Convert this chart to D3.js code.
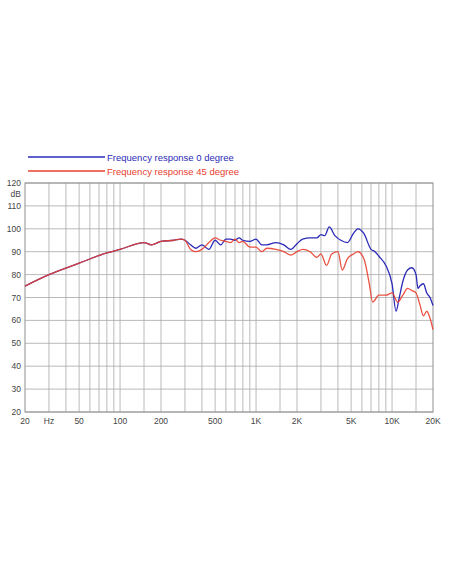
<!DOCTYPE html>
<html lang="en">
<head>
<meta charset="utf-8">
<script src="https://cdn.jsdelivr.net/npm/d3@7"></script>
<style>
  body { margin: 0; background: #fff; }
  text { font-family: "Liberation Sans", Arial, sans-serif; }
</style>
</head>
<body>
<div id="chart"></div>
<script>
// frequency (Hz) and level (dB) for both curves
var freq0 = [20,30,50,80,100,150,170,200,250,280,300,330,360,400,450,500,550,600,650,700,750,800,900,1000,1100,1200,1400,1600,1800,2000,2200,2500,2800,3000,3200,3450,3800,4200,4700,5200,5600,6200,7000,7500,8000,9000,10000,10700,11300,12000,13000,14000,15000,15500,16000,17000,18000,19000,20000];
var db0   = [75,80,85,89.5,91,94,93,94.5,95,95.5,95,93,91.5,93,91,95,93,95.5,95.5,95,96,95,94.5,95.5,93,93,94,93,91,93.5,95.5,96,96,97.5,97,100.8,97,95,94,98,100,98,91,90,88,84,76,64,70,77,82,83,80,74,75,76,72,70,66.5];
var freq45 = [20,30,50,80,100,150,170,200,250,280,300,330,360,400,450,500,550,600,650,700,750,800,900,1000,1100,1200,1400,1600,1800,2000,2200,2500,2800,3000,3300,3600,4000,4300,4700,5200,5600,6200,6800,7200,8000,9000,10000,11000,12000,13000,14000,15000,16000,17000,18000,19000,20000];
var db45   = [75,80,85,89.5,91,94,93,94.5,95,95.5,95,91,90,91,94,96,95,94.5,94,95.5,94,94.5,92,92,90,91.5,91,90,88.5,90,91,90,87.5,89,84,89,90,82,87,89,90,87,76,68,71,71,72,68,71,74,73,72,67,62,64,61,56];
var yTicks = [20,30,40,50,60,70,80,90,100,110,120];
var xLabels = [[20,"20"],[30,"Hz"],[50,"50"],[100,"100"],[200,"200"],[500,"500"],[1000,"1K"],[2000,"2K"],[5000,"5K"],[10000,"10K"],[20000,"20K"]];
var xGrid = [30,40,50,60,70,80,90,100,150,200,300,400,500,600,700,800,900,1000,1500,2000,3000,4000,5000,6000,7000,8000,9000,10000,15000];

var W = 452, H = 584;
var svg = d3.select("#chart").append("svg").attr("width", W).attr("height", H);

var x = d3.scaleLog().domain([20, 20000]).range([25, 433]);
var y = d3.scaleLinear().domain([20, 120]).range([412, 183]);

// grid
svg.append("g").selectAll("line").data(yTicks).enter().append("line")
  .attr("x1", 25).attr("x2", 433)
  .attr("y1", function(d) { return y(d); }).attr("y2", function(d) { return y(d); })
  .attr("stroke", "#a8a8a8").attr("stroke-width", 0.8);
svg.append("g").selectAll("line").data(xGrid).enter().append("line")
  .attr("y1", 183).attr("y2", 412)
  .attr("x1", function(d) { return x(d); }).attr("x2", function(d) { return x(d); })
  .attr("stroke", "#a8a8a8").attr("stroke-width", 0.8);
svg.append("rect").attr("x", 25).attr("y", 183).attr("width", 408).attr("height", 229)
  .attr("fill", "none").attr("stroke", "#909090").attr("stroke-width", 1);

// y labels
svg.append("g").selectAll("text").data(yTicks).enter().append("text")
  .attr("x", 21).attr("y", function(d) { return y(d) + 3; })
  .attr("text-anchor", "end").attr("font-size", 8.5).attr("fill", "#444")
  .text(function(d) { return d; });
svg.append("text").attr("x", 21).attr("y", y(115) + 3).attr("text-anchor", "end")
  .attr("font-size", 8.5).attr("fill", "#444").text("dB");

// x labels
svg.append("g").selectAll("text").data(xLabels).enter().append("text")
  .attr("x", function(d) { return x(d[0]); }).attr("y", 424)
  .attr("text-anchor", "middle").attr("font-size", 8.5).attr("fill", "#444")
  .text(function(d) { return d[1]; });

var line = d3.line().curve(d3.curveMonotoneX)
  .x(function(d) { return x(d[0]); }).y(function(d) { return y(d[1]); });

svg.append("path").datum(d3.zip(freq0, db0)).attr("d", line)
  .attr("fill", "none").attr("stroke", "#2b2bb8").attr("stroke-width", 1.3);
svg.append("path").datum(d3.zip(freq45, db45)).attr("d", line)
  .attr("fill", "none").attr("stroke", "#e8402f").attr("stroke-width", 1.3).attr("stroke-opacity", 0.9);

// legend
var legend = [["Frequency response 0 degree", "#2b2bb8", 157], ["Frequency response 45 degree", "#e8402f", 171]];
legend.forEach(function(l) {
  svg.append("line").attr("x1", 28).attr("x2", 105).attr("y1", l[2]).attr("y2", l[2])
    .attr("stroke", l[1]).attr("stroke-width", 1.3);
  svg.append("text").attr("x", 107).attr("y", l[2] + 3.5).attr("font-size", 9.5)
    .attr("fill", l[1]).text(l[0]);
});
</script>
</body>
</html>
